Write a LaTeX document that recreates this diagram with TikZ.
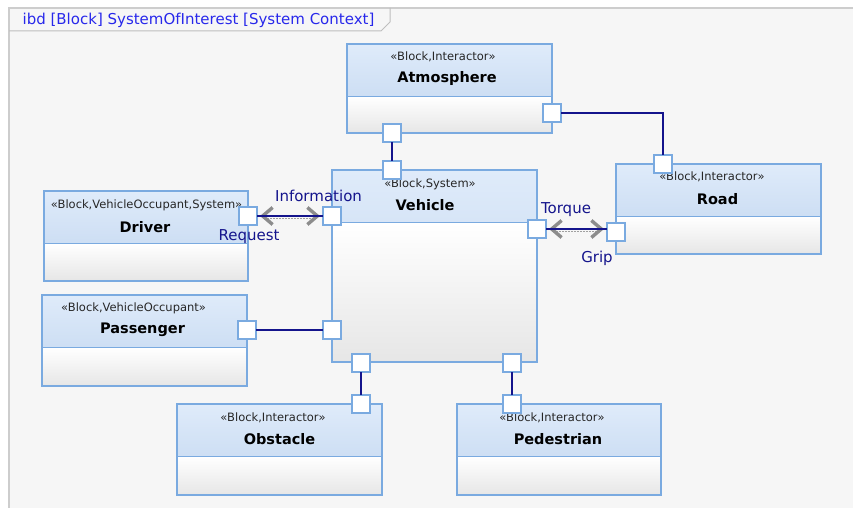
\documentclass[tikz,border=0pt]{standalone}
\usepackage{fontspec}
\setmainfont{DejaVu Sans}
\usetikzlibrary{arrows.meta,calc}

\definecolor{framebg}{RGB}{246,246,246}
\definecolor{frameline}{RGB}{205,205,205}
\definecolor{tabline}{RGB}{190,190,190}
\definecolor{blockline}{RGB}{122,170,224}
\definecolor{hdtop}{RGB}{223,235,250}
\definecolor{hdbot}{RGB}{192,213,239}
\definecolor{cmpbot}{RGB}{230,230,230}
\definecolor{navy}{RGB}{20,20,140}
\definecolor{titleblue}{RGB}{40,40,235}
\definecolor{flowgray}{RGB}{140,140,140}
\definecolor{dashgray}{RGB}{160,160,160}

\tikzset{
  x=1pt, y=-1pt,
  block/.style={rectangle, draw=blockline, line width=1.5pt, inner sep=0pt, outer sep=0pt,
    path picture={
      \shade[top color=hdtop, bottom color=hdbot]
        (path picture bounding box.north west) rectangle ([yshift=-52.5pt]path picture bounding box.north east);
      \shade[top color=white, middle color=white, bottom color=cmpbot]
        ([yshift=-52.5pt]path picture bounding box.north west) rectangle (path picture bounding box.south east);
      \draw[blockline, line width=1.5pt]
        ([yshift=-52.5pt]path picture bounding box.north west) -- ([yshift=-52.5pt]path picture bounding box.north east);
    }},
  port/.style={rectangle, draw=blockline, fill=white, line width=1.5pt,
    minimum size=18pt, inner sep=0pt, outer sep=0pt},
  stereo/.style={font=\fontsize{11.5}{13}\selectfont, text=black!85, inner sep=0pt},
  bname/.style={font=\fontsize{14.5}{17}\selectfont\bfseries, inner sep=0pt},
  conn/.style={draw=navy, line width=1.8pt},
  flowtips/.style={draw=flowgray, line width=1.2pt,
    {Straight Barb[length=10pt, width=17pt, line width=3.4pt, color=flowgray]}-{Straight Barb[length=10pt, width=17pt, line width=3.4pt, color=flowgray]}},
  flowdash/.style={draw=dashgray, line width=1.2pt, dash pattern=on 2pt off 1pt},
  flowlabel/.style={text=navy, font=\fontsize{15}{18}\selectfont, inner sep=0pt},
  titletext/.style={text=titleblue, font=\fontsize{15}{18}\selectfont, inner sep=0pt},
}

\begin{document}
\begin{tikzpicture}
  \useasboundingbox (0,0) rectangle (853,508);
  % diagram frame
  \fill[white] (0,0) rectangle (853,508);
  \fill[framebg] (9,8) rectangle (853,508);
  \draw[frameline, line width=2pt] (9,508) -- (9,8) -- (853,8);
  \draw[tabline, line width=1pt] (9,31) -- (381,31) -- (390,22) -- (390,8);
  \node[titletext] (title) at (198.5,20) {ibd [Block] SystemOfInterest [System Context]};

  % blocks
  \node[block, minimum width=205pt, minimum height=89pt]  (atm) at (449.5,88.5) {};
  \node[block, minimum width=205pt, minimum height=192pt] (veh) at (434.5,266) {};
  \node[block, minimum width=205pt, minimum height=90pt]  (road) at (718.5,209) {};
  \node[block, minimum width=204pt, minimum height=90pt]  (drv) at (146,236) {};
  \node[block, minimum width=205pt, minimum height=91pt]  (pas) at (144.5,340.5) {};
  \node[block, minimum width=205pt, minimum height=91pt]  (obs) at (279.5,449.5) {};
  \node[block, minimum width=204pt, minimum height=91pt]  (ped) at (559,449.5) {};

  % block titles
  \node[stereo] (atmS) at (443,57) {«Block,Interactor»};
  \node[bname]  (atmN) at (447,79) {Atmosphere};
  \node[stereo] (vehS) at (430,184) {«Block,System»};
  \node[bname]  (vehN) at (425,205) {Vehicle};
  \node[stereo] (roadS) at (712,177) {«Block,Interactor»};
  \node[bname]  (roadN) at (717.5,199) {Road};
  \node[stereo] (drvS) at (146.5,205) {«Block,VehicleOccupant,System»};
  \node[bname]  (drvN) at (145,227) {Driver};
  \node[stereo] (pasS) at (133.5,308) {«Block,VehicleOccupant»};
  \node[bname]  (pasN) at (142.5,330) {Passenger};
  \node[stereo] (obsS) at (273,418) {«Block,Interactor»};
  \node[bname]  (obsN) at (279.5,439) {Obstacle};
  \node[stereo] (pedS) at (552,418) {«Block,Interactor»};
  \node[bname]  (pedN) at (558,439) {Pedestrian};

  % ports
  \node[port] (aB) at (392,133) {};
  \node[port] (aR) at (552,113) {};
  \node[port] (vT) at (392,170) {};
  \node[port] (vI) at (332,216) {};
  \node[port] (vP) at (332,330) {};
  \node[port] (vR) at (537,229) {};
  \node[port] (vB1) at (361,363) {};
  \node[port] (vB2) at (512,363) {};
  \node[port] (rT) at (663,164) {};
  \node[port] (rL) at (616,232) {};
  \node[port] (dP) at (248,216) {};
  \node[port] (pP) at (247,330) {};
  \node[port] (oT) at (361,404) {};
  \node[port] (peT) at (512,404) {};

  % connectors
  \draw[conn] (aB) -- (vT);
  \draw[conn] (aR.east) -| (rT.north);
  \draw[conn] (pP) -- (vP);
  \draw[conn] (vB1) -- (oT);
  \draw[conn] (vB2) -- (peT);

  % connectors carrying item flows in both directions
  \draw[flowdash] ([xshift=10pt,yshift=-2.5pt]dP.east) -- ([xshift=-10pt,yshift=-2.5pt]vI.west);
  \draw[flowtips] ([xshift=3pt]dP.east) -- ([xshift=-3pt]vI.west);
  \draw[conn] (dP.east) -- (vI.west);
  \draw[flowdash] ([xshift=10pt,yshift=-2.5pt]vR.east) -- ([xshift=-10pt,yshift=-2.5pt]vR.east -| rL.west);
  \draw[flowtips] ([xshift=3pt]vR.east) -- ([xshift=-3pt]vR.east -| rL.west);
  \draw[conn] (vR.east) -- (vR.east -| rL.west);

  % flow labels
  \node[flowlabel] (infoL) at (318.5,196) {Information};
  \node[flowlabel] (reqL) at (249,237) {Request};
  \node[flowlabel] (torqL) at (566,210) {Torque};
  \node[flowlabel] (gripL) at (597,258) {Grip};
\end{tikzpicture}
\end{document}
